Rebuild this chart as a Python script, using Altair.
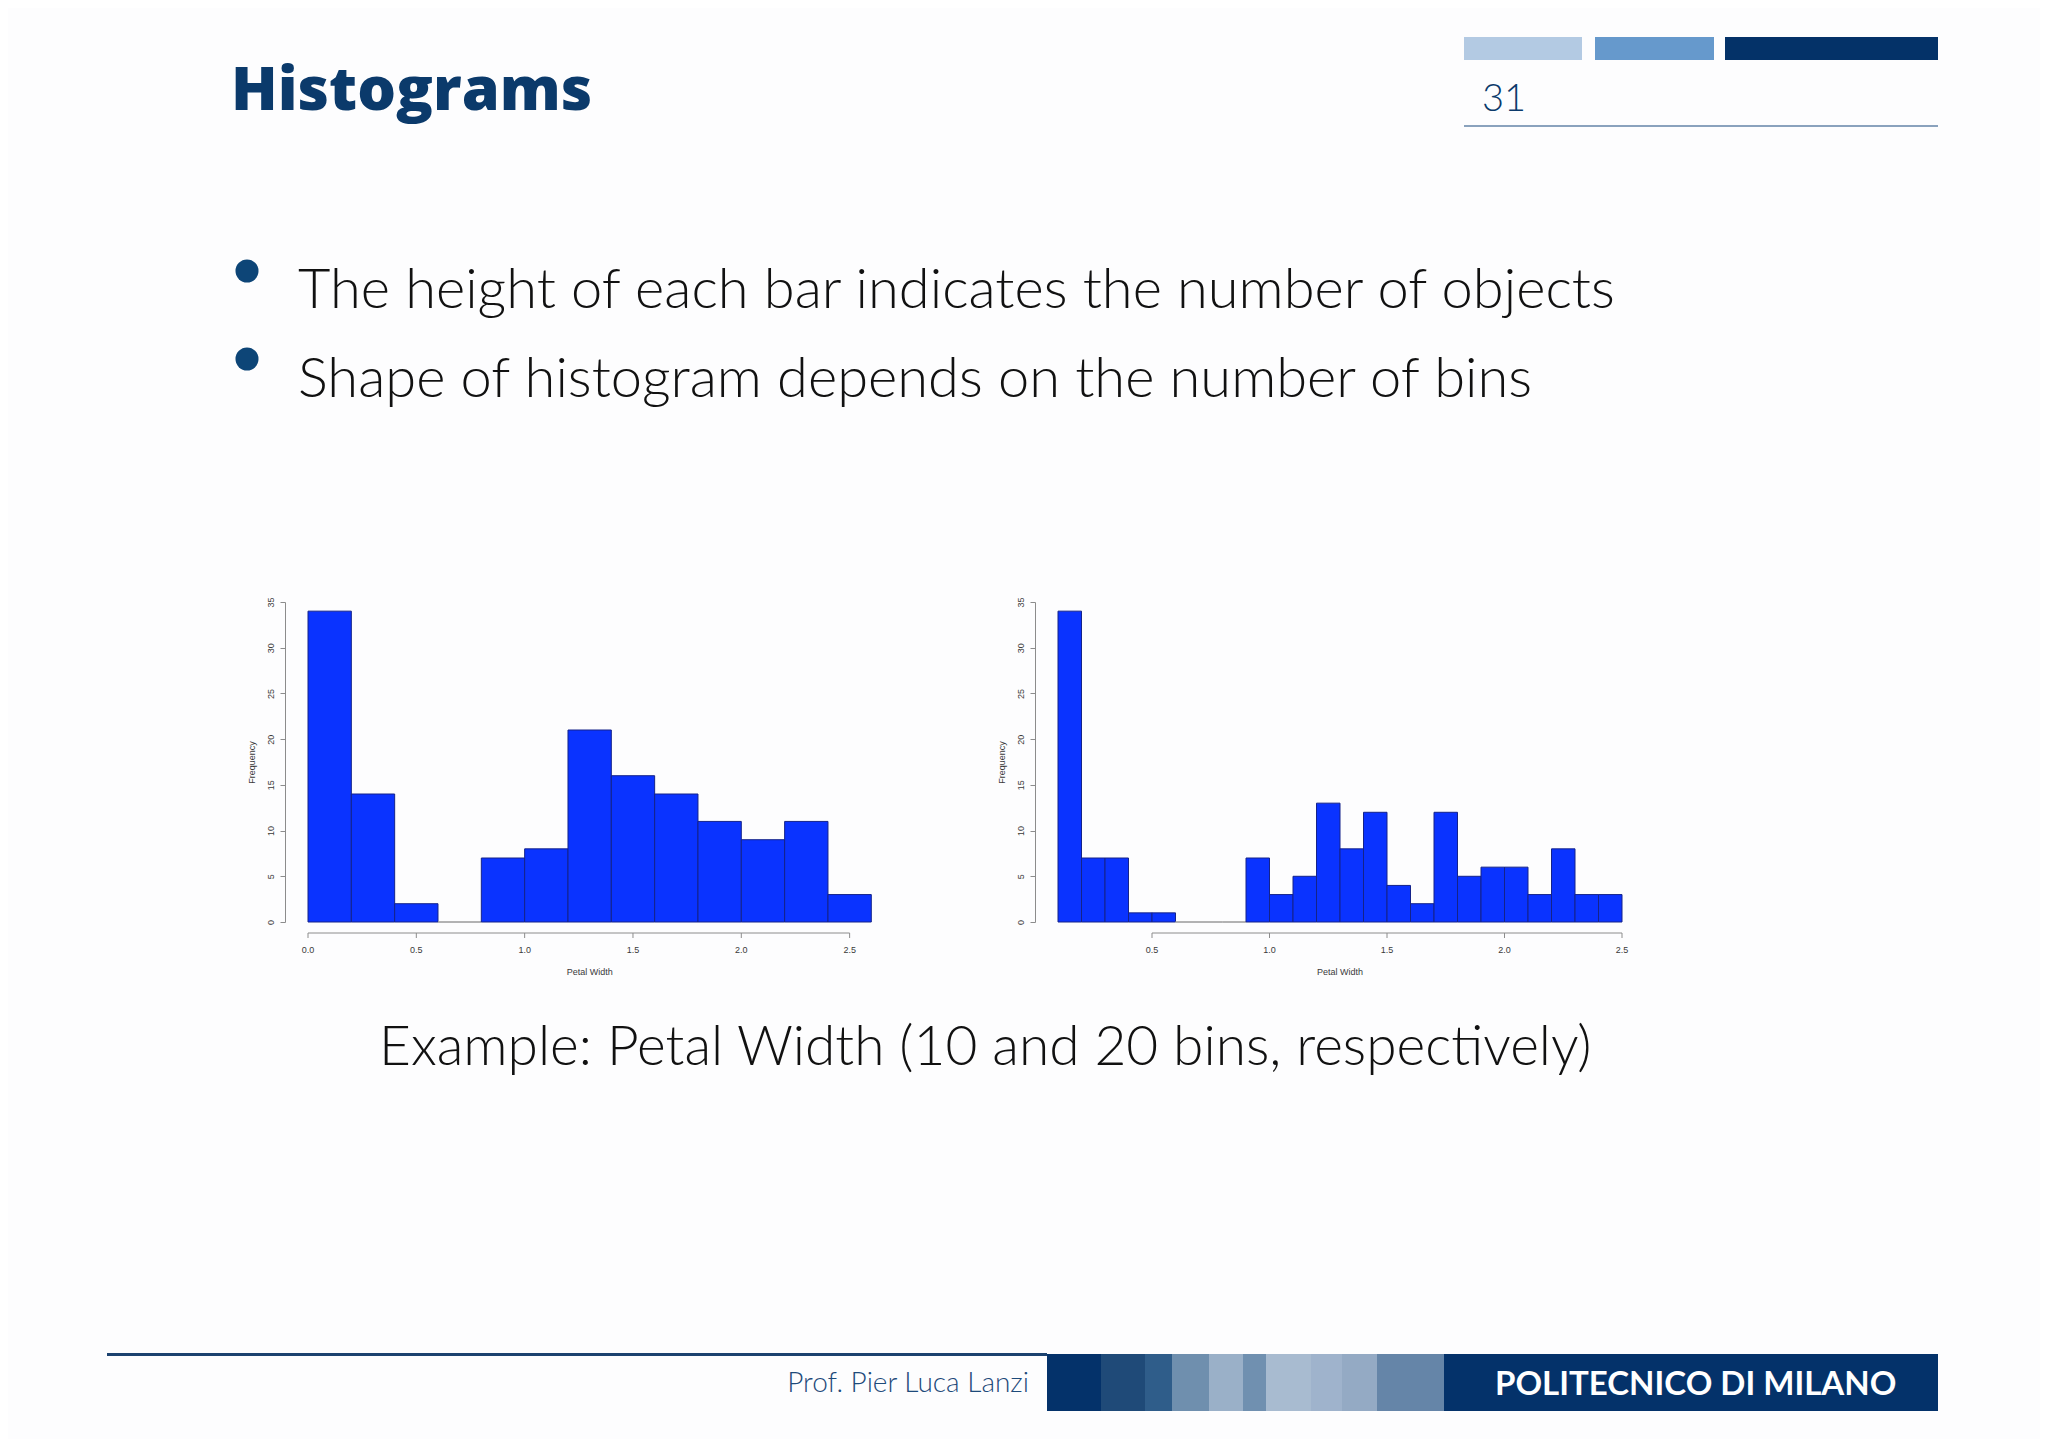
import altair as alt
import pandas as pd

# ---------------- data ----------------
left_bin_start = [0.0, 0.2, 0.4, 0.6, 0.8, 1.0, 1.2, 1.4, 1.6, 1.8, 2.0, 2.2, 2.4]
left_bin_end = [0.2, 0.4, 0.6, 0.8, 1.0, 1.2, 1.4, 1.6, 1.8, 2.0, 2.2, 2.4, 2.6]
left_counts = [34, 14, 2, 0, 7, 8, 21, 16, 14, 11, 9, 11, 3]

right_bin_start = [0.1, 0.2, 0.3, 0.4, 0.5, 0.6, 0.7, 0.8, 0.9, 1.0, 1.1, 1.2,
                   1.3, 1.4, 1.5, 1.6, 1.7, 1.8, 1.9, 2.0, 2.1, 2.2, 2.3, 2.4]
right_bin_end = [0.2, 0.3, 0.4, 0.5, 0.6, 0.7, 0.8, 0.9, 1.0, 1.1, 1.2, 1.3,
                 1.4, 1.5, 1.6, 1.7, 1.8, 1.9, 2.0, 2.1, 2.2, 2.3, 2.4, 2.5]
right_counts = [34, 7, 7, 1, 1, 0, 0, 0, 7, 3, 5, 13, 8, 12, 4, 2, 12, 5, 6, 6, 3, 8, 3, 3]

left_x_ticks = [0.0, 0.5, 1.0, 1.5, 2.0, 2.5]
right_x_ticks = [0.5, 1.0, 1.5, 2.0, 2.5]
y_ticks = [0, 5, 10, 15, 20, 25, 30, 35]
left_x_domain = [0.0, 2.6]
right_x_domain = [0.1, 2.5]
y_domain = [0, 35]

title_text = "Histograms"
page_number = "31"
bullet_texts = [
    "The height of each bar indicates the number of objects",
    "Shape of histogram depends on the number of bins",
]
caption_text = "Example: Petal Width (10 and 20 bins, respectively)"
author_text = "Prof. Pier Luca Lanzi"
school_text = "POLITECNICO DI MILANO"
x_title = "Petal Width"
y_title = "Frequency"

# ---------------- layout (page pixels) ----------------
M = 8  # page margin
W, H = 2032, 1431


def px(v):
    return v - M


NAVY = "#0b3a6b"
BAR_BLUE = "#0a33ff"
BAR_EDGE = "#14238a"
AXIS_GRAY = "#8c8c8c"
LABEL_GRAY = "#3a3a3a"
AXIS_FONT = "Liberation Sans"
one = pd.DataFrame({"k": [0]})


def rect(x0, x1, y0, y1, color):
    return alt.Chart(one).mark_rect(color=color).encode(
        x=alt.value(px(x0)), x2=alt.value(px(x1)),
        y=alt.value(px(y0)), y2=alt.value(px(y1)))


def text(t, x, y, size, color="#111111", font="Lato", weight=300, align="left"):
    return alt.Chart(one).mark_text(
        text=t, font=font, fontSize=size, fontWeight=weight, color=color,
        align=align, baseline="alphabetic",
    ).encode(x=alt.value(px(x)), y=alt.value(px(y)))


deco = []
# header blocks
deco.append(rect(1464, 1582, 37, 60, "#b3cae3"))
deco.append(rect(1595, 1714, 37, 60, "#6699cc"))
deco.append(rect(1725, 1938, 37, 60, "#043268"))
deco.append(rect(1464, 1938, 125, 127, "#8aa2bd"))
deco.append(text(title_text, 231, 110, 61, color=NAVY, font="Open Sans", weight=800))
deco.append(text(page_number, 1482, 111, 38, color=NAVY, weight=300))

# bullets
for i, t in enumerate(bullet_texts):
    yb = [308, 397][i]
    deco.append(alt.Chart(one).mark_circle(size=530, color="#0d4577", opacity=1).encode(
        x=alt.value(px(247)), y=alt.value(px([271, 359][i]))))
    deco.append(text(t, 298, yb, 56))

deco.append(text(caption_text, 379, 1065, 55))

# footer
deco.append(rect(107, 1047, 1353, 1356, "#1c426f"))
deco.append(rect(1047, 1938, 1354, 1411, "#04326a"))
stripes = [(1101, 1145, "#1f4a78"), (1145, 1172, "#2f5d8a"), (1172, 1209, "#6f8fae"),
           (1209, 1243, "#9ab0c8"), (1243, 1266, "#7090b0"), (1266, 1311, "#a8bbd0"),
           (1311, 1342, "#9fb3cc"), (1342, 1377, "#94aac4"), (1377, 1444, "#6585a8")]
for a, b, c in stripes:
    deco.append(rect(a, b, 1354, 1411, c))
deco.append(text(author_text, 1029, 1392, 28, color="#1d4a7a", align="right"))
deco.append(text(school_text, 1495, 1395, 33, color="white", weight="bold"))

# ---------------- histograms ----------------
Y0, Y35 = 922, 602  # page y of count 0 and 35
XAXIS_Y = 933       # page y of the R-style x axis line
XLABEL_Y = 950
XTITLE_Y = 972


def histogram(starts, ends, counts, xdomain, xrange_px, ticks, yaxis_x):
    df = pd.DataFrame({"start": starts, "end": ends, "count": counts})
    xscale = alt.Scale(domain=xdomain, range=[px(xrange_px[0]), px(xrange_px[1])],
                       nice=False, zero=False)
    yscale = alt.Scale(domain=y_domain, range=[px(Y0), px(Y35)], nice=False, zero=True)
    yaxis = alt.Axis(orient="left", offset=-px(yaxis_x), values=y_ticks, format="d",
                     domain=True, domainColor=AXIS_GRAY, grid=False, tickSize=5,
                     tickColor=AXIS_GRAY, labelFont=AXIS_FONT, labelFontSize=9,
                     labelColor=LABEL_GRAY, labelAngle=270, labelAlign="center",
                     labelBaseline="bottom", labelPadding=5, title=y_title,
                     titleFont=AXIS_FONT, titleFontSize=9,
                     titleFontWeight="normal", titleColor=LABEL_GRAY, titlePadding=10)
    bars = alt.Chart(df).mark_rect(color=BAR_BLUE, strokeWidth=1).encode(
        x=alt.X("start:Q", scale=xscale, axis=None),
        x2="end:Q",
        y=alt.Y("count:Q", scale=yscale, axis=yaxis),
        y2=alt.datum(0),
        stroke=alt.condition(alt.datum["count"] == 0, alt.value("#9a9a9a"),
                             alt.value(BAR_EDGE)),
    )
    # R-style x axis drawn through the same x scale
    axis_df = pd.DataFrame({"a": [ticks[0]], "b": [ticks[-1]]})
    line = alt.Chart(axis_df).mark_rule(color=AXIS_GRAY, strokeWidth=1).encode(
        x=alt.X("a:Q", axis=None), x2="b:Q", y=alt.value(px(XAXIS_Y)))
    tick_df = pd.DataFrame({"t": ticks})
    tick_marks = alt.Chart(tick_df).mark_rule(color=AXIS_GRAY, strokeWidth=1).encode(
        x=alt.X("t:Q", axis=None), y=alt.value(px(XAXIS_Y)),
        y2=alt.value(px(XAXIS_Y + 5)))
    tick_labels = alt.Chart(tick_df).mark_text(
        font=AXIS_FONT, fontSize=9, color=LABEL_GRAY, align="center", baseline="middle"
    ).encode(x=alt.X("t:Q", axis=None), y=alt.value(px(XLABEL_Y)),
             text=alt.Text("t:Q", format=".1f"))
    xtitle = alt.Chart(one).mark_text(
        text=x_title, font=AXIS_FONT, fontSize=9, color=LABEL_GRAY, align="center",
        baseline="middle"
    ).encode(x=alt.datum((xdomain[0] + xdomain[1]) / 2), y=alt.value(px(XTITLE_Y)))
    return alt.layer(bars, line, tick_marks, tick_labels, xtitle)


left_hist = histogram(left_bin_start, left_bin_end, left_counts, left_x_domain,
                      (308, 871.3), left_x_ticks, 285)
right_hist = histogram(right_bin_start, right_bin_end, right_counts, right_x_domain,
                       (1058, 1622), right_x_ticks, 1035)

chart = alt.layer(*deco, left_hist, right_hist).resolve_scale(
    x="independent", y="independent"
).properties(
    width=W, height=H, autosize=alt.AutoSizeParams(type="none"), padding=0,
    background="#fdfdfe",
).configure_view(stroke=None)

chart.save("out.html", embed_options={"renderer": "svg", "actions": False})
